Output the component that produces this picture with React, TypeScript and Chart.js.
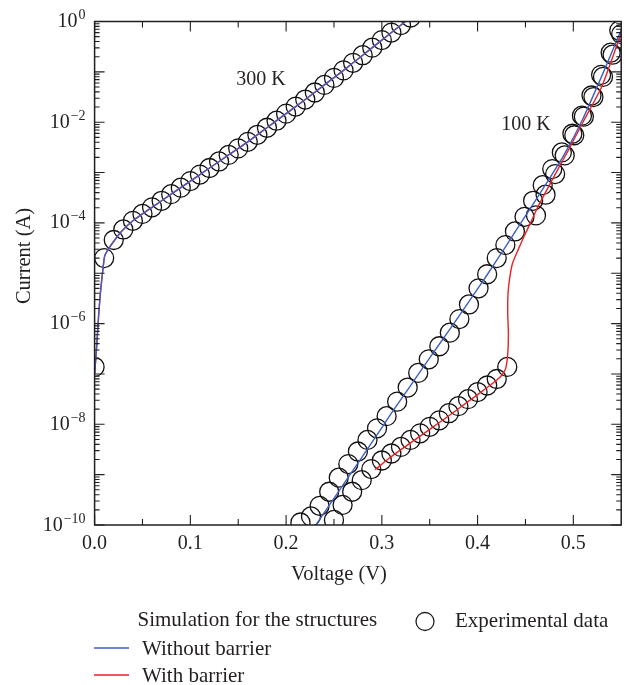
import { useEffect, useRef } from "react";
import Chart from "chart.js/auto";

// ---------- data (voltage in V, current in A) ----------
// 300 K simulation (without barrier; the with-barrier curve coincides)
const sim300V = [0, 0.002, 0.004, 0.006, 0.0085, 0.0105, 0.014, 0.021, 0.028, 0.04, 0.06, 0.08, 0.1, 0.12, 0.14, 0.16, 0.18, 0.2, 0.22, 0.24, 0.26, 0.28, 0.3, 0.32, 0.34];
const sim300I = [1.0e-7, 3.16e-7, 1.26e-6, 3.98e-6, 1.12e-5, 2.19e-5, 2.95e-5, 4.57e-5, 6.76e-5, 1.1e-4, 2.04e-4, 3.72e-4, 6.76e-4, 1.23e-3, 2.24e-3, 4.07e-3, 7.76e-3, 1.48e-2, 2.82e-2, 5.5e-2, 0.107, 0.214, 0.427, 0.851, 1.7];

// 300 K experimental
const exp300V = [0, 0.01, 0.02, 0.03, 0.04, 0.05, 0.06, 0.07, 0.08, 0.09, 0.1, 0.11, 0.12, 0.13, 0.14, 0.15, 0.16, 0.17, 0.18, 0.19, 0.2, 0.21, 0.22, 0.23, 0.24, 0.25, 0.26, 0.27, 0.28, 0.29, 0.3, 0.31, 0.32, 0.33];
const exp300I = [1.38e-7, 2.0e-5, 4.57e-5, 7.41e-5, 1.1e-4, 1.51e-4, 2.04e-4, 2.75e-4, 3.72e-4, 5.01e-4, 6.76e-4, 9.12e-4, 1.23e-3, 1.66e-3, 2.24e-3, 3.02e-3, 4.07e-3, 5.62e-3, 7.76e-3, 1.07e-2, 1.48e-2, 2.04e-2, 2.82e-2, 3.89e-2, 5.5e-2, 7.59e-2, 0.107, 0.151, 0.214, 0.302, 0.427, 0.603, 0.851, 1.2];

// 100 K simulation without barrier
const sim100V = [0.229, 0.25, 0.27, 0.29, 0.31, 0.33, 0.35, 0.37, 0.39, 0.41, 0.43, 0.45, 0.47, 0.49, 0.51, 0.53, 0.55];
const sim100I = [8.71e-11, 3.39e-10, 1.23e-9, 4.47e-9, 1.66e-8, 5.89e-8, 2.09e-7, 7.24e-7, 2.57e-6, 9.33e-6, 3.55e-5, 1.38e-4, 5.37e-4, 2.19e-3, 1.17e-2, 8.51e-2, 0.676];

// 100 K simulation with barrier
const sim100BarV = [0.293, 0.31, 0.33, 0.35, 0.37, 0.39, 0.41, 0.42, 0.426, 0.4295, 0.4315, 0.4322, 0.4315, 0.4318, 0.4335, 0.4365, 0.4422, 0.4492, 0.456, 0.463, 0.4736, 0.484, 0.495, 0.51, 0.53, 0.55];
const sim100BarI = [1.26e-9, 2.29e-9, 4.27e-9, 7.94e-9, 1.48e-8, 2.82e-8, 5.37e-8, 7.59e-8, 9.77e-8, 1.32e-7, 2.51e-7, 6.31e-7, 1.58e-6, 3.98e-6, 7.94e-6, 1.58e-5, 2.88e-5, 5.75e-5, 1.07e-4, 2.09e-4, 5.01e-4, 1.17e-3, 2.82e-3, 1.0e-2, 5.25e-2, 0.589];

// 100 K experimental, structure without barrier
const exp100aV = [0.215, 0.226, 0.235, 0.245, 0.255, 0.265, 0.275, 0.285, 0.295, 0.305, 0.316, 0.327, 0.338, 0.349, 0.36, 0.371, 0.381, 0.391, 0.401, 0.41, 0.42, 0.429, 0.439, 0.449, 0.458, 0.468, 0.478, 0.488, 0.499, 0.509, 0.519, 0.529, 0.539, 0.548];
const exp100aI = [1.12e-10, 1.48e-10, 2.4e-10, 4.57e-10, 8.71e-10, 1.62e-9, 2.88e-9, 4.9e-9, 8.32e-9, 1.45e-8, 2.82e-8, 5.37e-8, 1.05e-7, 1.95e-7, 3.55e-7, 6.61e-7, 1.23e-6, 2.4e-6, 5.01e-6, 9.55e-6, 2.0e-5, 3.63e-5, 6.76e-5, 1.32e-4, 2.75e-4, 5.62e-4, 1.17e-3, 2.51e-3, 5.89e-3, 1.35e-2, 3.39e-2, 8.71e-2, 0.24, 0.661];

// 100 K experimental, structure with barrier
const exp100bV = [0.25, 0.259, 0.269, 0.279, 0.289, 0.3, 0.31, 0.32, 0.33, 0.34, 0.35, 0.36, 0.37, 0.38, 0.39, 0.4, 0.41, 0.42, 0.431, 0.461, 0.471, 0.481, 0.491, 0.501, 0.511, 0.521, 0.531, 0.541, 0.55];
const exp100bI = [1.26e-10, 2.51e-10, 4.57e-10, 7.76e-10, 1.29e-9, 1.91e-9, 2.63e-9, 3.55e-9, 4.9e-9, 6.61e-9, 8.91e-9, 1.2e-8, 1.66e-8, 2.29e-8, 3.16e-8, 4.37e-8, 5.89e-8, 7.94e-8, 1.38e-7, 1.41e-4, 3.63e-4, 9.33e-4, 2.19e-3, 5.5e-3, 1.29e-2, 3.16e-2, 7.94e-2, 0.219, 0.562];

// ---------- axes ----------
const xMajorTicks = [0, 0.1, 0.2, 0.3, 0.4, 0.5];
const xTickLabels = ["0.0", "0.1", "0.2", "0.3", "0.4", "0.5"];
const xMinorTicks = [0.05, 0.15, 0.25, 0.35, 0.45];
const yDecadeExps = [-10, -9, -8, -7, -6, -5, -4, -3, -2, -1, 0];
const yLabelExps = [-10, -8, -6, -4, -2, 0];
const yMinorMultipliers = [2, 3, 4, 5, 6, 7, 8, 9];

const BLUE = "#3e5fc2";
const RED = "#ee2024";
const INK = "#231f20";
const SERIF = '"Liberation Serif", "DejaVu Serif", serif';

const pts = (xs: number[], ys: number[]) => xs.map((x, i) => ({ x, y: ys[i] }));

const decor = {
  id: "decor",
  afterDraw(chart: any) {
    const { ctx, chartArea: a } = chart;
    const sx = chart.scales.x;
    const sy = chart.scales.y;
    ctx.save();
    ctx.strokeStyle = INK;
    ctx.fillStyle = INK;

    // inward ticks on all four sides
    ctx.lineWidth = 1.1;
    ctx.beginPath();
    const vtick = (px: number, len: number) => {
      ctx.moveTo(px, a.bottom);
      ctx.lineTo(px, a.bottom - len);
      ctx.moveTo(px, a.top);
      ctx.lineTo(px, a.top + len);
    };
    const htick = (py: number, len: number) => {
      ctx.moveTo(a.left, py);
      ctx.lineTo(a.left + len, py);
      ctx.moveTo(a.right, py);
      ctx.lineTo(a.right - len, py);
    };
    xMajorTicks.forEach((v) => vtick(sx.getPixelForValue(v), 10));
    xMinorTicks.forEach((v) => vtick(sx.getPixelForValue(v), 6));
    yDecadeExps.forEach((e) => htick(sy.getPixelForValue(Math.pow(10, e)), 10));
    yDecadeExps.slice(0, -1).forEach((e) =>
      yMinorMultipliers.forEach((m) => htick(sy.getPixelForValue(m * Math.pow(10, e)), 5))
    );
    ctx.stroke();

    // frame
    ctx.lineWidth = 1.5;
    ctx.strokeRect(a.left, a.top, a.right - a.left, a.bottom - a.top);

    // x tick labels
    ctx.textBaseline = "alphabetic";
    ctx.textAlign = "center";
    ctx.font = `20px ${SERIF}`;
    xMajorTicks.forEach((v, i) => ctx.fillText(xTickLabels[i], sx.getPixelForValue(v), a.bottom + 24));

    // y tick labels 10^n
    ctx.textAlign = "right";
    yLabelExps.forEach((e) => {
      const py = sy.getPixelForValue(Math.pow(10, e));
      const sup = e === 0 ? "0" : "\u2212" + Math.abs(e);
      ctx.font = `14px ${SERIF}`;
      const w = ctx.measureText(sup).width;
      ctx.fillText(sup, a.left - 9, py - 2.5);
      ctx.font = `20px ${SERIF}`;
      ctx.fillText("10", a.left - 9 - w - 1, py + 5.5);
    });

    // axis titles
    ctx.font = `20.5px ${SERIF}`;
    ctx.textAlign = "center";
    ctx.fillText("Voltage (V)", 339, 579.5);
    ctx.save();
    ctx.translate(25, 256);
    ctx.rotate(-Math.PI / 2);
    ctx.textBaseline = "middle";
    ctx.fillText("Current (A)", 0, 0);
    ctx.restore();

    // temperature annotations
    ctx.font = `20px ${SERIF}`;
    ctx.fillText("300 K", 261, 85);
    ctx.fillText("100 K", 526, 130);

    // legend
    ctx.textAlign = "left";
    ctx.font = `21px ${SERIF}`;
    ctx.fillText("Simulation for the structures", 137.5, 626);
    ctx.fillText("Experimental data", 455, 626.5);
    ctx.fillText("Without barrier", 142, 654.5);
    ctx.fillText("With barrier", 142, 681.5);
    ctx.lineWidth = 1.3;
    ctx.beginPath();
    ctx.arc(425, 621.5, 9, 0, Math.PI * 2);
    ctx.stroke();
    ctx.lineWidth = 1.4;
    ctx.strokeStyle = BLUE;
    ctx.beginPath();
    ctx.moveTo(94, 648);
    ctx.lineTo(129, 648);
    ctx.stroke();
    ctx.strokeStyle = RED;
    ctx.beginPath();
    ctx.moveTo(94, 675);
    ctx.lineTo(129, 675);
    ctx.stroke();
    ctx.restore();
  },
};

export default function App() {
  const ref = useRef<HTMLCanvasElement>(null);
  useEffect(() => {
    document.body.style.margin = "0";
    const lineDs = (label: string, v: number[], c: number[], color: string, order: number) => ({
      label,
      data: pts(v, c),
      showLine: true,
      borderColor: color,
      borderWidth: 1.4,
      pointRadius: 0,
      pointHoverRadius: 0,
      tension: 0.2,
      order,
    });
    const expDs = (label: string, v: number[], c: number[]) => ({
      label,
      data: pts(v, c),
      showLine: false,
      pointStyle: "circle",
      pointRadius: 9.5,
      pointHoverRadius: 9.5,
      pointBorderWidth: 1.3,
      pointBorderColor: "#111111",
      pointBackgroundColor: "rgba(0,0,0,0)",
      order: 3,
    });
    const chart = new Chart(ref.current as HTMLCanvasElement, {
      type: "scatter",
      data: {
        datasets: [
          lineDs("Without barrier 300 K", sim300V, sim300I, BLUE, 1),
          lineDs("Without barrier 100 K", sim100V, sim100I, BLUE, 1),
          lineDs("With barrier 300 K", sim300V, sim300I, RED, 2),
          lineDs("With barrier 100 K", sim100BarV, sim100BarI, RED, 2),
          expDs("Experimental 300 K", exp300V, exp300I),
          expDs("Experimental 100 K (without barrier)", exp100aV, exp100aI),
          expDs("Experimental 100 K (with barrier)", exp100bV, exp100bI),
        ] as any,
      },
      options: {
        animation: false,
        responsive: false,
        devicePixelRatio: 1,
        events: [],
        layout: { padding: { left: 94.6, top: 21.5, right: 8.5, bottom: 160 } },
        plugins: { legend: { display: false }, tooltip: { enabled: false } },
        scales: {
          x: { type: "linear", min: 0, max: 0.55, display: false },
          y: { type: "logarithmic", min: 1e-10, max: 1, display: false },
        },
      },
      plugins: [decor],
    });
    return () => chart.destroy();
  }, []);
  return <canvas ref={ref} width={632} height={685} style={{ display: "block" }} />;
}
